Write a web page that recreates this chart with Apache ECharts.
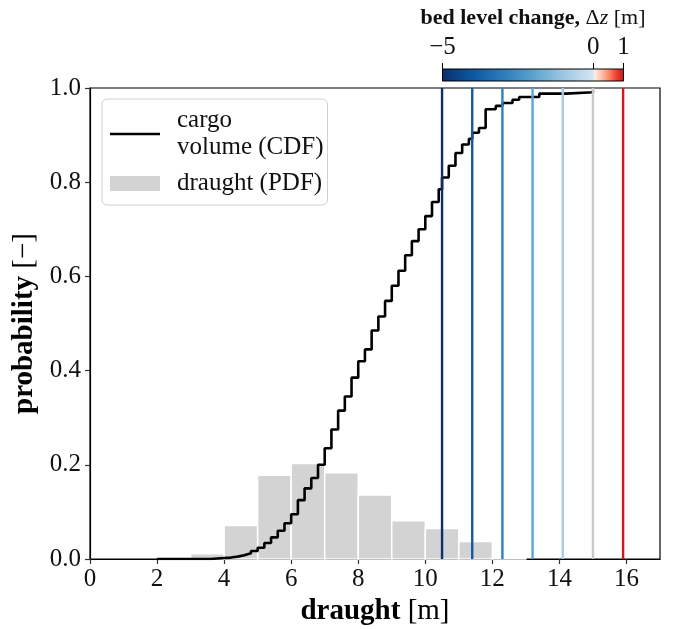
<!DOCTYPE html>
<html>
<head>
<meta charset="utf-8">
<script src="https://cdn.jsdelivr.net/npm/echarts@6/dist/echarts.min.js"></script>
<style>
html,body{margin:0;padding:0;background:#fff;}
#chart{width:673px;height:629px;}
</style>
</head>
<body>
<div id="chart"></div>
<script>
// ---------- data ----------
const xTicks = [0, 2, 4, 6, 8, 10, 12, 14, 16];
const yTicks = [0.0, 0.2, 0.4, 0.6, 0.8, 1.0];

// histogram of draught (PDF): bin edges and densities
const binEdges = [3, 4, 5, 6, 7, 8, 9, 10, 11, 12, 13];
const binDensity = [0.011, 0.071, 0.178, 0.203, 0.183, 0.136, 0.081, 0.065, 0.037, 0.003];

// cargo volume CDF (step function)
const cdfX = [2.0, 3.6, 3.8, 4.0, 4.2, 4.4, 4.6, 4.8, 5.0, 5.2, 5.4, 5.6, 5.8, 6.0, 6.2, 6.4, 6.6, 6.8,
              7.0, 7.2, 7.4, 7.6, 7.8, 8.0, 8.2, 8.4, 8.6, 8.8, 9.0, 9.2, 9.4, 9.6, 9.8, 10.0, 10.2,
              10.4, 10.5, 10.7, 10.9, 11.1, 11.3, 11.4, 11.6, 11.8, 12.1, 12.3, 12.6, 12.8, 13.4, 14.2, 15.0];
const cdfY = [0.000, 0.001, 0.002, 0.003, 0.005, 0.008, 0.012, 0.017, 0.024, 0.034, 0.046, 0.060, 0.076, 0.095, 0.125, 0.150, 0.172, 0.200,
              0.235, 0.275, 0.315, 0.345, 0.385, 0.420, 0.445, 0.485, 0.515, 0.548, 0.580, 0.612, 0.645, 0.675, 0.700, 0.728, 0.758,
              0.785, 0.810, 0.835, 0.862, 0.880, 0.892, 0.905, 0.915, 0.955, 0.962, 0.968, 0.975, 0.981, 0.988, 0.991, 0.995];

// vertical lines: draught limits for each bed level change
const limitX = [10.5, 11.4, 12.3, 13.2, 14.1, 15.0, 15.9];
const limitDz = [-5, -4, -3, -2, -1, 0, 1];
const limitColors = ['#0c2e6e', '#1557a3', '#2f7fc1', '#5aa6da', '#a8cbe9', '#c8c8c8', '#cc1a1e'];

// colour bar
const cbRange = [-5, 1];
const cbTicks = [-5, 0, 1];

const seriesNames = ['cargo volume (CDF)', 'draught (PDF)'];

// ---------- chart ----------
const F = '"Liberation Serif", "DejaVu Serif", serif';
const chart = echarts.init(document.getElementById('chart'), null, {renderer: 'canvas'});

const histData = binDensity.map((d, i) => [binEdges[i], binEdges[i + 1], d]);
const cdfData = cdfX.map((x, i) => [x, cdfY[i]]);
const limitData = limitX.map((x, i) => [x, limitDz[i], i]);

const cbGradient = new echarts.graphic.LinearGradient(0, 0, 1, 0, [
  {offset: 0.0, color: '#08306b'},
  {offset: 1/6, color: '#0d57a1'},
  {offset: 2/6, color: '#2b7bba'},
  {offset: 3/6, color: '#5aa3d0'},
  {offset: 4/6, color: '#9dc7e2'},
  {offset: 5/6 - 0.001, color: '#d6e6f4'},
  {offset: 5/6, color: '#fff2ec'},
  {offset: 5/6 + 1/24, color: '#fcc4ac'},
  {offset: 5/6 + 2/24, color: '#fb8a6a'},
  {offset: 5/6 + 3/24, color: '#ec3f30'},
  {offset: 1.0, color: '#c8141c'}
]);

const TICK = 25, NAME = 29;

const option = {
  animation: false,
  backgroundColor: '#fff',
  grid: [
    {left: 90, top: 88, right: 13, bottom: 70, show: true, borderColor: '#000', borderWidth: 1.2,
     backgroundColor: 'transparent', outerBoundsMode: 'none', containLabel: false},
    {left: 442.5, right: 49.5, top: 69, height: 12, outerBoundsMode: 'none', containLabel: false}
  ],
  legend: {
    data: [{name: seriesNames[0], icon: 'path://M0,0H50V2.6H0Z'}, {name: seriesNames[1], icon: 'rect'}],
    orient: 'vertical',
    left: 102, top: 99,
    padding: [8, 4, 8, 8],
    itemGap: 9,
    itemWidth: 50, itemHeight: 15,
    borderColor: '#d0d0d0', borderWidth: 1, borderRadius: 5,
    backgroundColor: '#fff',
    formatter: n => n === seriesNames[0] ? 'cargo\nvolume (CDF)' : n,
    textStyle: {fontFamily: F, fontSize: 25, color: '#111', lineHeight: 27, padding: [0, 0, 0, 12]}
  },
  xAxis: [
    {
      gridIndex: 0, type: 'value', min: 0, max: 17, interval: 2,
      axisLine: {show: true, onZero: false, lineStyle: {color: '#000', width: 1.2}},
      axisTick: {show: true, length: 5, customValues: xTicks, lineStyle: {color: '#333', width: 1.2}},
      splitLine: {show: false},
      axisLabel: {customValues: xTicks, fontFamily: F, fontSize: TICK, color: '#111', margin: 8},
      name: '{b|draught} {r|[m]}', nameLocation: 'middle', nameGap: 37,
      nameTextStyle: {fontFamily: F, fontSize: NAME, color: '#000',
        rich: {b: {fontFamily: F, fontSize: NAME, fontWeight: 'bold', color: '#000'}, r: {fontFamily: F, fontSize: NAME, color: '#000'}}}
    },
    {
      gridIndex: 1, type: 'value', min: cbRange[0], max: cbRange[1], position: 'top',
      axisLine: {show: true, onZero: false, lineStyle: {color: '#000', width: 1}},
      axisTick: {show: true, length: 6, customValues: cbTicks, lineStyle: {color: '#000', width: 1}},
      splitLine: {show: false},
      axisLabel: {customValues: cbTicks, fontFamily: F, fontSize: TICK, color: '#111', margin: 9,
        formatter: v => (v < 0 ? '\u2212' + Math.abs(v) : String(v))},
      name: '{b|bed level change,} {r|\u0394}{i|z} {r|[m]}', nameLocation: 'middle', nameGap: 40,
      nameTextStyle: {fontFamily: F, fontSize: 22, color: '#000',
        rich: {b: {fontFamily: F, fontSize: 22, fontWeight: 'bold', color: '#111'},
               r: {fontFamily: F, fontSize: 22, color: '#111'},
               i: {fontFamily: F, fontSize: 22, fontStyle: 'italic', color: '#111'}}}
    }
  ],
  yAxis: [
    {
      gridIndex: 0, type: 'value', min: 0, max: 1, interval: 0.2,
      axisLine: {show: true, onZero: false, lineStyle: {color: '#000', width: 1.2}},
      axisTick: {show: true, length: 5, customValues: yTicks, lineStyle: {color: '#333', width: 1.2}},
      splitLine: {show: false},
      axisLabel: {customValues: yTicks, fontFamily: F, fontSize: TICK, color: '#111', margin: 9, formatter: v => v.toFixed(1)},
      name: '{b|probability} {r|[\u2212]}', nameLocation: 'middle', nameGap: 47, nameRotate: 90,
      nameTextStyle: {fontFamily: F, fontSize: NAME, color: '#000',
        rich: {b: {fontFamily: F, fontSize: NAME, fontWeight: 'bold', color: '#000'}, r: {fontFamily: F, fontSize: NAME, color: '#000'}}}
    },
    {gridIndex: 1, type: 'value', min: 0, max: 1, show: false}
  ],
  series: [
    {
      name: seriesNames[1], type: 'custom', xAxisIndex: 0, yAxisIndex: 0, z: 1,
      itemStyle: {color: '#d3d3d3'},
      data: histData,
      encode: {x: [0, 1], y: 2},
      renderItem: (params, api) => {
        const p0 = api.coord([api.value(0), 0]);
        const p1 = api.coord([api.value(1), api.value(2)]);
        return {type: 'rect', shape: {x: p0[0], y: p1[1], width: p1[0] - p0[0], height: p0[1] - p1[1]},
                style: {fill: '#d3d3d3', stroke: '#fff', lineWidth: 1.5}};
      }
    },
    {
      name: seriesNames[0], type: 'line', xAxisIndex: 0, yAxisIndex: 0, z: 3,
      step: 'end', symbol: 'none', showSymbol: false,
      lineStyle: {color: '#000', width: 2.6},
      itemStyle: {color: '#000'},
      data: cdfData
    },
    {
      name: 'limits', type: 'custom', xAxisIndex: 0, yAxisIndex: 0, z: 4,
      data: limitData,
      encode: {x: 0},
      renderItem: (params, api) => {
        const x = api.value(0);
        const a = api.coord([x, 0]);
        const b = api.coord([x, 1]);
        return {type: 'line', shape: {x1: a[0], y1: a[1], x2: b[0], y2: b[1]},
                style: {stroke: limitColors[api.value(2)], lineWidth: 2.4}};
      }
    },
    {
      name: 'colorbar', type: 'custom', xAxisIndex: 1, yAxisIndex: 1, z: 2,
      data: [[cbRange[0], cbRange[1]]],
      encode: {x: [0, 1]},
      renderItem: (params, api) => {
        const a = api.coord([api.value(0), 0]);
        const b = api.coord([api.value(1), 1]);
        return {type: 'rect', shape: {x: a[0], y: b[1], width: b[0] - a[0], height: a[1] - b[1]},
                style: {fill: cbGradient, stroke: '#000', lineWidth: 1}};
      }
    }
  ]
};
chart.setOption(option);
</script>
</body>
</html>
